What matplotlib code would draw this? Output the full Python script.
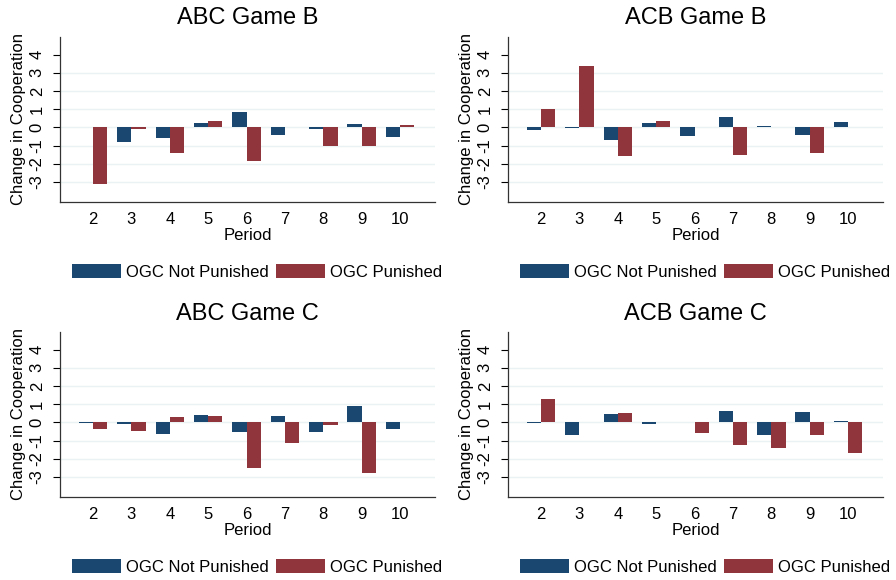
import matplotlib
matplotlib.use("Agg")
import matplotlib.pyplot as plt
from matplotlib.patches import Patch
import numpy as np

plt.rcParams["font.family"] = ["Liberation Sans", "DejaVu Sans"]

# Change in cooperation by period, split by whether the OGC was punished
periods = [2, 3, 4, 5, 6, 7, 8, 9, 10]
titles = ["ABC Game B", "ACB Game B", "ABC Game C", "ACB Game C"]

abc_b_not = [0.0, -0.8, -0.6, 0.25, 0.85, -0.42, -0.1, 0.18, -0.55]
abc_b_pun = [-3.1, -0.1, -1.4, 0.35, -1.82, 0.0, -1.0, -1.0, 0.12]
acb_b_not = [-0.15, -0.03, -0.67, 0.27, -0.45, 0.56, 0.1, -0.4, 0.28]
acb_b_pun = [1.0, 3.4, -1.57, 0.35, 0.0, -1.5, 0.0, -1.41, 0.0]
abc_c_not = [-0.03, -0.1, -0.62, 0.4, -0.55, 0.36, -0.5, 0.9, -0.35]
abc_c_pun = [-0.35, -0.45, 0.3, 0.35, -2.5, -1.15, -0.15, -2.78, 0.0]
acb_c_not = [-0.03, -0.67, 0.47, -0.1, 0.05, 0.62, -0.67, 0.56, 0.1]
acb_c_pun = [1.29, 0.0, 0.51, 0.0, -0.6, -1.23, -1.43, -0.67, -1.67]

not_punished = [abc_b_not, acb_b_not, abc_c_not, acb_c_not]
punished = [abc_b_pun, acb_b_pun, abc_c_pun, acb_c_pun]

yticks = [-3, -2, -1, 0, 1, 2, 3, 4]

NAVY = "#1a476f"
MAROON = "#90353b"
GRID = "#eaf2f3"

W, H = 896, 580
fig = plt.figure(figsize=(W / 100, H / 100), dpi=100)

# axes boxes in pixels: (left, top, right, bottom)
boxes = [(60, 37, 435, 202), (508, 37, 883, 202),
         (60, 332, 435, 497), (508, 332, 883, 497)]

bw = 0.37
x = np.array(periods, dtype=float)

for i, (l, t, r, b) in enumerate(boxes):
    ax = fig.add_axes([l / W, 1 - b / H, (r - l) / W, (b - t) / H])
    for g in [-3, -2, -1, 0, 1, 2, 3]:
        ax.axhline(g, color=GRID, lw=1.0, zorder=0)
    ax.bar(x, not_punished[i], width=-bw, align="edge", color=NAVY, zorder=2)
    ax.bar(x, punished[i], width=bw, align="edge", color=MAROON, zorder=2)

    ax.set_xlim(1.14, 10.91)
    ax.set_ylim(-4.1, 4.97)
    ax.set_xticks(periods)
    ax.set_xticklabels([str(p) for p in periods], fontsize=12)
    ax.tick_params(axis="x", length=0, pad=7)
    ax.set_yticks(yticks)
    ax.set_yticklabels([str(v) for v in yticks], fontsize=12, rotation=90,
                       va="center")
    ax.tick_params(axis="y", length=5, width=0.8, pad=6)
    ax.spines[["top", "right"]].set_visible(False)
    for s in ["left", "bottom"]:
        ax.spines[s].set_linewidth(0.9)
        ax.spines[s].set_color("#333333")

    ax.set_title(titles[i], fontsize=17, pad=9)
    ax.set_xlabel("Period", fontsize=12, labelpad=1)
    ax.set_ylabel("Change in Cooperation", fontsize=12, labelpad=3)

    handles = [Patch(facecolor=NAVY), Patch(facecolor=MAROON)]
    ax.legend(handles, ["OGC Not Punished", "OGC Punished"],
              loc="center", bbox_to_anchor=(0.525, -0.425), ncol=2,
              frameon=False, fontsize=12, handlelength=2.95,
              handleheight=0.9, handletextpad=0.3, columnspacing=0.4)

fig.savefig("out.png", dpi=100, facecolor="white")
